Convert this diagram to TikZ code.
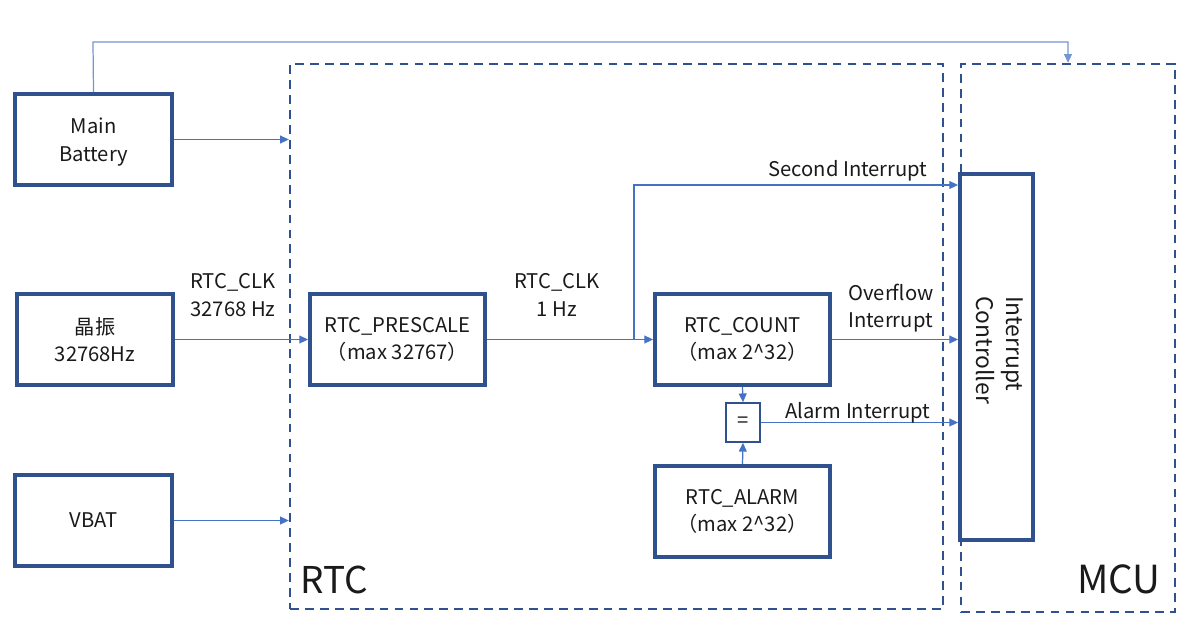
\documentclass[tikz,border=0pt]{standalone}
\usepackage{fontspec}
\setmainfont{Noto Sans CJK SC}
\usetikzlibrary{arrows.meta,calc}
\definecolor{boxblue}{HTML}{2F528F}
\definecolor{arrblue}{HTML}{4472C4}
\definecolor{txt}{HTML}{1A1A1A}
\begin{document}
\begin{tikzpicture}[x=0.02cm,y=-0.02cm,
  every node/.style={font=\fontsize{11.5}{15.5}\selectfont, text=txt},
  blk/.style={draw=boxblue, line width=2.2pt, align=center, inner sep=0pt},
  frame/.style={draw=boxblue, line width=1.4pt, dash pattern=on 5pt off 3.5pt, inner sep=0pt},
  conn/.style={draw=arrblue, line width=0.7pt, -{Triangle[length=5pt,width=4.5pt]}},
  lbl/.style={align=center, inner sep=0pt},
  big/.style={font=\fontsize{21}{25}\selectfont, inner sep=0pt}]
\useasboundingbox (0,0) rectangle (1189,637);
% frames
\node[frame, minimum width=13.06cm, minimum height=10.9cm] (rtc) at (616.5,336.5) {};
\node[frame, minimum width=4.28cm, minimum height=10.96cm] (mcu) at (1068,338) {};
% blocks
\node[blk, minimum width=3.14cm, minimum height=1.82cm] (main) at (93.5,139.5) {};
\node[lbl] at (93.5,142) {Main\\Battery};
\node[blk, minimum width=3.12cm, minimum height=1.82cm] (osc) at (95,339.5) {晶振\\32768Hz};
\node[blk, minimum width=3.14cm, minimum height=1.82cm] (vbat) at (93.5,520.5) {VBAT};
\node[blk, minimum width=3.5cm, minimum height=1.82cm] (pre) at (397.5,339.5) {RTC\_PRESCALE\\（max 32767）};
\node[blk, minimum width=3.5cm, minimum height=1.82cm] (cnt) at (742.5,339.5) {RTC\_COUNT\\（max 2\^{}32）};
\node[blk, minimum width=3.5cm, minimum height=1.82cm] (alm) at (742.5,511.5) {RTC\_ALARM\\（max 2\^{}32）};
\node[draw=boxblue, line width=0.9pt, minimum width=0.68cm, minimum height=0.78cm, inner sep=0pt] (eq) at (743,422.5) {=};
\node[blk, minimum width=1.46cm, minimum height=7.32cm] (ic) at (996.5,357) {};
\node[align=left, inner sep=0pt, rotate=-90, font=\fontsize{13}{17}\selectfont] at (1000,350) {Interrupt\\Controller};
% big labels
\node[big, anchor=south west] at (300,594) {RTC};
\node[big, anchor=south west, font=\fontsize{22}{26}\selectfont] at (1077,594) {MCU};
% connectors
\coordinate (top1) at (93,42);
\coordinate (top2) at (1068,42);
\draw[conn, draw=arrblue!75] (main.north) -- (top1) -- (top2) -- (mcu.north -| top2);
\draw[conn] (main.east) -- (rtc.west |- main.east);
\draw[conn] (vbat.east) -- (rtc.west |- vbat.east);
\draw[conn] (osc.east) -- (pre.west);
\draw[conn] (pre.east) -- (cnt.west);
\coordinate (br) at (634,339.5);
\draw[conn] (br) |- (ic.west |- 0,185) coordinate (sec);
\draw[conn] (cnt.east) -- (ic.west |- cnt.east);
\draw[conn] (cnt.south) -- (eq.north);
\draw[conn] (alm.north) -- (eq.south);
\draw[conn] (eq.east) -- (ic.west |- eq.east);
% labels
\node[lbl] at (233,295) {RTC\_CLK\\32768 Hz};
\node[lbl] at (557,295) {RTC\_CLK\\1 Hz};
\node[lbl, anchor=base] at (848,176) {Second Interrupt};
\node[lbl, anchor=base west] at (848,300) {Overflow};
\node[lbl, anchor=base west] at (848,327) {Interrupt};
\node[lbl, anchor=base] at (858,418) {Alarm Interrupt};
\end{tikzpicture}
\end{document}
